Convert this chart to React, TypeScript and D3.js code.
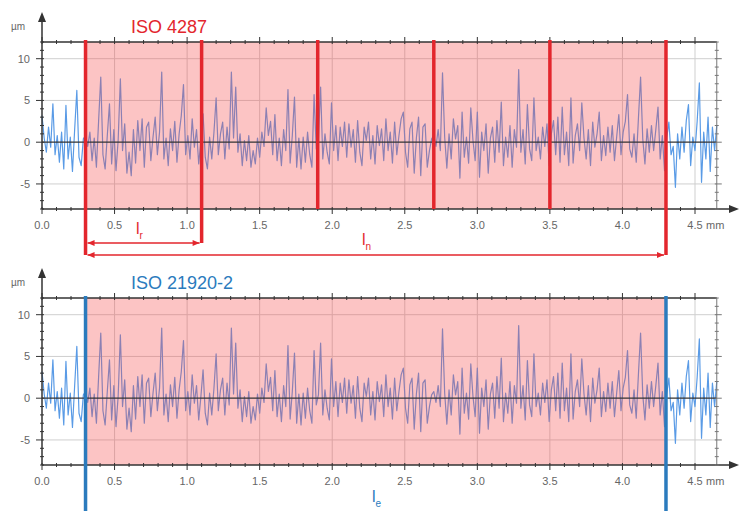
import React from 'react';
import * as d3 from 'd3';

// Roughness profile (µm), sampled every STEP_MM millimetres from 0 to 4.65 mm
const STEP_MM = 0.015;
const PROFILE: number[] = [
  3.2, 0.5, -1.2, 1.8, -0.6, 4.6, -1.5, 0.8, -2.4, 1.2, -3.2, 4.4, -2.0, 0.6, -3.5, 1.5, 6.2, -1.8, -2.8, 0.4,
  0.8, -0.5, 1.2, -2.2, 0.5, -3.0, 2.5, 7.8, -1.5, -3.2, 0.8, 4.6, -2.6, 1.5, -3.4, 0.3, 7.6, -1.0, 2.2, -3.7,
  -1.2, -4.0, 1.5, -2.5, 2.6, -1.0, 2.8, -3.0, 1.8, 2.4, -2.2, 0.6, 3.0, -1.5, 1.2, 8.4, -2.0, 0.5, -2.8, 1.6,
  -1.0, 2.5, -2.4, 1.0, 3.2, 6.9, -1.5, 0.8, -2.0, 2.8, -0.6, 1.5, -2.6, 0.2, 3.4, -1.8, -3.2, 0.6, -2.0, 1.2,
  5.3, -1.5, 1.0, 2.4, -2.0, 1.8, -0.8, 8.4, 0.5, 6.6, -1.2, 1.0, -2.8, 0.2, -2.2, 0.8, -3.0, -1.0, -2.6, 0.5,
  -1.8, 1.2, -0.5, 4.1, 0.8, 2.5, -1.5, 3.3, -2.2, 0.5, -2.8, 1.5, -1.0, 6.3, -2.5, 0.8, 5.4, -3.0, 0.5, -3.2,
  0.6, -2.4, 1.2, -1.5, -3.0, 5.7, -0.8, 0.4, 6.6, -2.0, 1.0, -1.2, -2.6, 4.7, -1.0, 2.0, -2.2, 1.8, -0.5, 2.4,
  -1.8, 2.2, -0.6, 1.5, -2.4, 2.6, -1.2, -2.8, 1.8, 0.2, 2.4, -2.0, 0.8, -2.6, 2.0, -0.4, 1.6, -2.2, 2.8, -1.0,
  1.2, -2.5, 2.4, -1.5, 0.8, 2.8, 3.6, -1.2, -3.0, 1.6, 2.4, -3.7, 0.5, 3.0, -4.0, 1.8, 2.2, -3.0, -1.0, 0.4,
  0.8, -0.5, 1.5, -1.0, 8.3, 0.6, -3.1, 1.0, -2.0, 2.8, 0.4, 2.0, -4.3, 3.6, -1.8, 0.6, -2.5, 4.1, 0.2, -2.2,
  3.6, -4.2, 1.2, -1.0, 2.2, -3.7, 0.5, 1.8, -2.4, 2.6, -1.2, 4.8, -2.8, 0.6, -1.8, 2.0, -3.0, 1.5, -0.6, 8.7,
  -1.2, 1.5, -2.6, 4.5, -0.8, -2.2, 5.3, -1.0, 0.6, -2.0, 1.8, -0.5, 2.2, -2.8, 1.0, 2.6, -1.5, 3.0, -2.4, 4.2,
  -1.5, 1.2, -2.8, 5.3, -2.5, 0.8, 2.2, -1.0, 4.7, 0.5, -2.0, 1.5, -2.8, 2.4, -0.6, 1.0, 3.6, -2.2, 0.8, -1.6,
  1.8, -1.2, 2.0, -2.2, 0.6, 3.3, -1.5, 1.2, 2.5, 5.7, -0.8, -1.8, 1.0, -2.4, 2.8, 7.8, 0.4, -2.6, 1.6, -1.2,
  2.0, -1.0, 1.5, 4.2, -2.0, 0.8, -3.4, 0.5, 2.4, -1.5, -0.5, -5.4, 1.0, -2.0, 1.8, -1.2, 2.6, 4.5, -2.8, 0.6,
  -1.0, 2.5, 7.1, -4.8, 1.2, -2.0, 3.0, -3.5, 1.8, -1.0, 2.0,
];

const X_TICKS = [0, 0.5, 1.0, 1.5, 2.0, 2.5, 3.0, 3.5, 4.0, 4.5];
const X_TICK_LABELS = ['0.0', '0.5', '1.0', '1.5', '2.0', '2.5', '3.0', '3.5', '4.0', '4.5'];
const Y_TICKS = [10, 5, 0, -5];
const Y_TICK_LABELS = ['10', '5', '0', '-5'];
const X_UNIT = 'mm';
const Y_UNIT = 'µm';
const X_END = 4.65;
const Y_DOMAIN: [number, number] = [-8, 12];
const ISO4287_BOUNDS = [0.3, 1.1, 1.9, 2.7, 3.5, 4.3];
const ISO21920_BOUNDS = [0.3, 4.3];
const TITLES = ['ISO 4287', 'ISO 21920-2'];

const FONT = '"Liberation Sans", Arial, sans-serif';
const RED = '#e3262d';
const BLUE = '#2b7bbd';
const LINE_BLUE = '#5a9be6';
const AXIS = '#333';
const GRID = '#cfcfcf';

const LEFT = 42;
const x = d3.scaleLinear().domain([0, 4.5]).range([LEFT, 695]);
const RIGHT = x(X_END);

function Panel({ top, bottom, title, titleColor, bounds, boundColor, boundBottom }: any) {
  const y = d3.scaleLinear().domain(Y_DOMAIN).range([bottom, top]);
  const line = d3
    .line<number>()
    .x((_, i) => x(i * STEP_MM))
    .y((d) => y(d))
    .curve(d3.curveLinear);
  const minorX = d3.range(0, 46).map((i) => i / 10);
  const minorY = d3.range(Y_DOMAIN[0], Y_DOMAIN[1] + 1);
  const shadeX0 = x(bounds[0]);
  const shadeX1 = x(bounds[bounds.length - 1]);
  return (
    <g>
      {X_TICKS.slice(1).map((t) => (
        <line key={'gx' + t} x1={x(t)} x2={x(t)} y1={top} y2={bottom} stroke={GRID} strokeWidth={1} />
      ))}
      {Y_TICKS.filter((t) => t !== 0).map((t) => (
        <line key={'gy' + t} x1={LEFT} x2={RIGHT} y1={y(t)} y2={y(t)} stroke={GRID} strokeWidth={1} />
      ))}
      <path d={line(PROFILE) || ''} fill="none" stroke={LINE_BLUE} strokeWidth={1.2} strokeLinejoin="round" />
      <rect x={shadeX0} y={top} width={shadeX1 - shadeX0} height={bottom - top} fill="rgb(245,70,70)" opacity={0.32} />
      <line x1={LEFT} x2={RIGHT} y1={y(0)} y2={y(0)} stroke={AXIS} strokeWidth={1.2} />
      <line x1={LEFT} x2={RIGHT} y1={top} y2={top} stroke={AXIS} strokeWidth={1.5} />
      <line x1={RIGHT} x2={RIGHT} y1={top} y2={bottom} stroke="#777" strokeWidth={1} />
      <line x1={LEFT} x2={733} y1={bottom} y2={bottom} stroke={AXIS} strokeWidth={1.5} />
      <polygon points={`739,${bottom} 729,${bottom - 4} 729,${bottom + 4}`} fill={AXIS} />
      <line x1={LEFT} x2={LEFT} y1={top - 26} y2={bottom} stroke={AXIS} strokeWidth={1.5} />
      <polygon points={`${LEFT},${top - 30} ${LEFT - 4},${top - 20} ${LEFT + 4},${top - 20}`} fill={AXIS} />
      {minorX.map((t, i) => {
        const major = i % 5 === 0;
        return (
          <g key={'tx' + i}>
            <line x1={x(t)} x2={x(t)} y1={bottom - 2} y2={bottom + (major ? 5 : 2)} stroke={AXIS} strokeWidth={1} />
            <line x1={x(t)} x2={x(t)} y1={top - (major ? 5 : 2)} y2={top + 2} stroke={AXIS} strokeWidth={1} />
          </g>
        );
      })}
      {minorY.map((t) => {
        const major = t % 5 === 0;
        return (
          <g key={'ty' + t}>
            <line x1={LEFT - (major ? 6 : 2)} x2={LEFT + 2} y1={y(t)} y2={y(t)} stroke={AXIS} strokeWidth={1} />
            <line x1={RIGHT - 2} x2={RIGHT + (major ? 5 : 2)} y1={y(t)} y2={y(t)} stroke="#777" strokeWidth={1} />
          </g>
        );
      })}
      {X_TICKS.map((t, i) => (
        <text key={'lx' + t} x={x(t)} y={bottom + 20} textAnchor="middle" fontSize={11} fill="#666" fontFamily={FONT}>
          {X_TICK_LABELS[i]}
        </text>
      ))}
      <text x={x(4.5) + 11} y={bottom + 20} fontSize={11} fill="#666" fontFamily={FONT}>
        {X_UNIT}
      </text>
      {Y_TICKS.map((t, i) => (
        <text key={'ly' + t} x={30} y={y(t) + 4} textAnchor="end" fontSize={11} fill="#666" fontFamily={FONT}>
          {Y_TICK_LABELS[i]}
        </text>
      ))}
      <text x={25} y={top - 12} textAnchor="end" fontSize={10} fill="#666" fontFamily={FONT}>
        {Y_UNIT}
      </text>
      <text x={131} y={top - 9} fontSize={18} fill={titleColor} fontFamily={FONT}>
        {title}
      </text>
      {bounds.map((b: number, i: number) => (
        <line key={'b' + i} x1={x(b)} x2={x(b)} y1={top - 2} y2={boundBottom(i)} stroke={boundColor} strokeWidth={3.5} />
      ))}
    </g>
  );
}

function Bracket({ x0, x1, y, color }: any) {
  return (
    <g>
      <line x1={x0 + 2} x2={x1 - 2} y1={y} y2={y} stroke={color} strokeWidth={1.5} />
      <polygon points={`${x0 + 2},${y} ${x0 + 9},${y - 3} ${x0 + 9},${y + 3}`} fill={color} />
      <polygon points={`${x1 - 2},${y} ${x1 - 9},${y - 3} ${x1 - 9},${y + 3}`} fill={color} />
    </g>
  );
}

function Label({ cx, y, main, sub, color }: any) {
  return (
    <text x={cx} y={y} fontSize={16} fill={color} fontFamily={FONT}>
      {main}
      <tspan fontSize={10} dy={5}>
        {sub}
      </tspan>
    </text>
  );
}

export default function App() {
  const lrY = 243;
  const lnY = 255;
  return (
    <svg
      width={739}
      height={511}
      viewBox="0 0 739 511"
      style={{ position: 'absolute', left: 0, top: 0, background: '#fff' }}
    >
      <rect x={0} y={0} width={739} height={511} fill="#fff" />
      <Panel
        top={42}
        bottom={209}
        title={TITLES[0]}
        titleColor={RED}
        bounds={ISO4287_BOUNDS}
        boundColor={RED}
        boundBottom={(i: number) => (i === 0 || i === ISO4287_BOUNDS.length - 1 ? lnY : i === 1 ? lrY : 209)}
      />
      <Bracket x0={x(ISO4287_BOUNDS[0])} x1={x(ISO4287_BOUNDS[1])} y={lrY} color={RED} />
      <Bracket x0={x(ISO4287_BOUNDS[0])} x1={x(ISO4287_BOUNDS[5])} y={lnY} color={RED} />
      <Label cx={136} y={234} main="l" sub="r" color={RED} />
      <Label cx={362} y={245} main="l" sub="n" color={RED} />
      <Panel
        top={298}
        bottom={465}
        title={TITLES[1]}
        titleColor={BLUE}
        bounds={ISO21920_BOUNDS}
        boundColor={BLUE}
        boundBottom={() => 515}
      />
      <Label cx={372} y={502} main="l" sub="e" color={BLUE} />
    </svg>
  );
}
